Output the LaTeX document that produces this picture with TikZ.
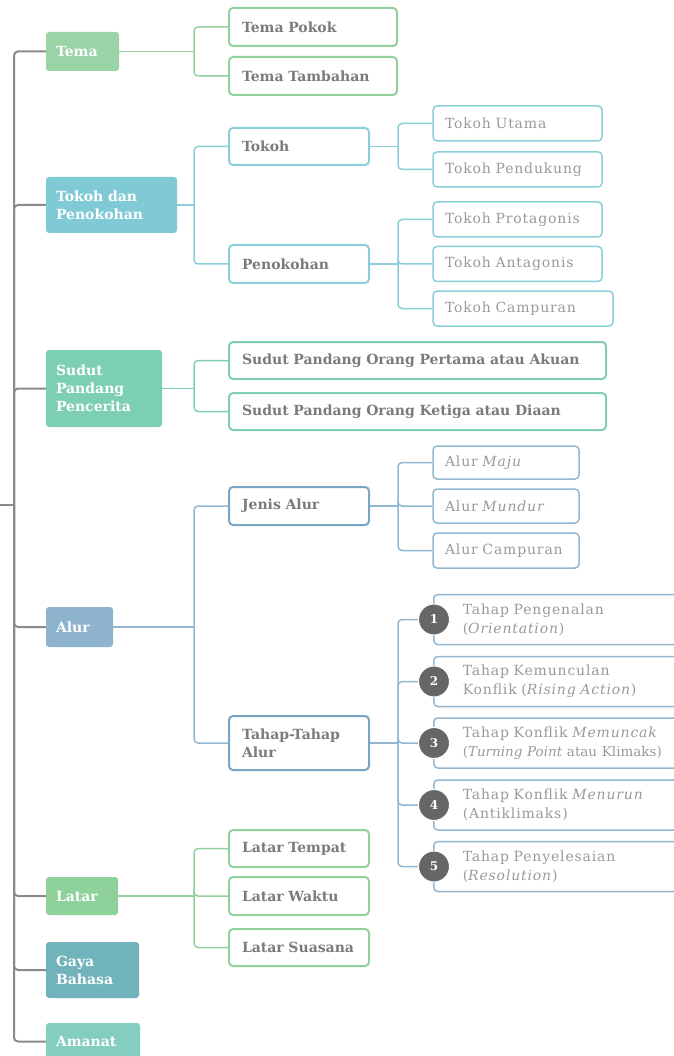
\documentclass[tikz,border=0pt]{standalone}
\usepackage{fontspec}
\setmainfont{DejaVu Serif}
\newfontfamily\leaffamily{DejaVu Serif}[LetterSpace=6]
\usetikzlibrary{positioning}
\definecolor{spinegray}{HTML}{8A8A8A}
\definecolor{txtgray}{HTML}{7B7B7B}
\definecolor{ltgray}{HTML}{9A9A9A}
\definecolor{dotgray}{HTML}{666666}
\definecolor{temafill}{HTML}{9AD3A6}
\definecolor{temaline}{HTML}{92D19E}
\definecolor{tokfill}{HTML}{80CAD6}
\definecolor{tokline}{HTML}{8ACFDA}
\definecolor{sudfill}{HTML}{7DCFB4}
\definecolor{sudline}{HTML}{80CEB3}
\definecolor{alurfill}{HTML}{8DB4CC}
\definecolor{alurline}{HTML}{94B7D1}
\definecolor{alurdark}{HTML}{7AA5C4}
\definecolor{latfill}{HTML}{8FD19B}
\definecolor{gayafill}{HTML}{70B3BA}
\definecolor{amafill}{HTML}{86CDC1}
\newcommand{\hdfont}{\fontsize{14}{18}\selectfont\bfseries}
\newcommand{\sbfont}{\fontsize{14}{18}\selectfont\bfseries}
\newcommand{\lvfont}{\leaffamily\fontsize{14}{19}\selectfont}

\begin{document}
\begin{tikzpicture}[x=1pt, y=-1pt,
    mainbox/.style={rectangle, rounded corners=3pt, text=white, font=\hdfont, align=left, inner xsep=10pt, inner ysep=2pt},
    subbox/.style={rectangle, rounded corners=4pt, draw, line width=2pt, fill=white, text=txtgray, font=\sbfont, align=left, inner xsep=13pt, inner ysep=2pt},
    leafbox/.style={subbox, line width=1.5pt, font=\lvfont, text=ltgray, inner xsep=12pt},
    stagebox/.style={leafbox, inner xsep=29pt, minimum height=50pt, text width=240pt},
    numdot/.style={circle, fill=dotgray, draw=white, line width=1pt, text=white, font=\fontsize{12}{12}\selectfont\bfseries, minimum size=31pt, inner sep=0pt},
    spineline/.style={draw=spinegray, line width=2pt, rounded corners=4pt},
    link/.style={line width=1.5pt, rounded corners=4pt}]
    \useasboundingbox (0,0) rectangle (673,1056);

    % main topics
    \node[mainbox, fill=temafill, text width=53pt, minimum height=39pt] (tema) at (82.5,51.5) {Tema};
    \node[mainbox, fill=tokfill, text width=111pt, minimum height=56pt] (tokdan) at (111.5,205) {Tokoh dan\\Penokohan};
    \node[mainbox, fill=sudfill, text width=96pt, minimum height=77pt] (sudut) at (104,388.5) {Sudut\\Pandang\\Pencerita};
    \node[mainbox, fill=alurfill, text width=47pt, minimum height=40pt] (alur) at (79.5,627) {Alur};
    \node[mainbox, fill=latfill, text width=52pt, minimum height=38pt] (latar) at (82,896) {Latar};
    \node[mainbox, fill=gayafill, text width=73pt, minimum height=56pt] (gaya) at (92.5,970) {Gaya\\Bahasa};
    \node[mainbox, fill=amafill, text width=74pt, minimum height=37pt] (amanat) at (93,1041.5) {Amanat};

    % tema
    \node[subbox, draw=temaline, text width=142pt, minimum height=38pt] (pokok) at (313,27) {Tema Pokok};
    \node[subbox, draw=temaline, text width=142pt, minimum height=38pt] (tambahan) at (313,76) {Tema Tambahan};

    % tokoh dan penokohan
    \node[subbox, draw=tokline, text width=114pt, minimum height=37pt] (tokoh) at (299,146.5) {Tokoh};
    \node[subbox, draw=tokline, text width=114pt, minimum height=38pt] (penokohan) at (299,264) {Penokohan};
    \node[leafbox, draw=tokline, text width=145pt, minimum height=35pt] (utama) at (517.5,123.5) {Tokoh Utama};
    \node[leafbox, draw=tokline, text width=145pt, minimum height=35pt] (pendukung) at (517.5,169.5) {Tokoh Pendukung};
    \node[leafbox, draw=tokline, text width=145pt, minimum height=35pt] (protagonis) at (517.5,219.5) {Tokoh Protagonis};
    \node[leafbox, draw=tokline, text width=145pt, minimum height=35pt] (antagonis) at (517.5,264) {Tokoh Antagonis};
    \node[leafbox, draw=tokline, text width=156pt, minimum height=35pt] (campuran) at (523,308.5) {Tokoh Campuran};

    % sudut pandang
    \node[subbox, draw=sudline, text width=351pt, minimum height=37pt] (pertama) at (417.5,360.5) {Sudut Pandang Orang Pertama atau Akuan};
    \node[subbox, draw=sudline, text width=351pt, minimum height=37pt] (ketiga) at (417.5,411.5) {Sudut Pandang Orang Ketiga atau Diaan};

    % alur
    \node[subbox, draw=alurdark, text width=114pt, minimum height=38pt] (jenis) at (299,506) {Jenis Alur};
    \node[subbox, draw=alurdark, text width=114pt, minimum height=54pt] (tahapalur) at (299,743) {Tahap-Tahap\\Alur};
    \node[leafbox, draw=alurline, text width=122pt, minimum height=33pt] (maju) at (506,462.5) {Alur \textit{Maju}};
    \node[leafbox, draw=alurline, text width=122pt, minimum height=34pt] (mundur) at (506,506) {Alur \textit{Mundur}};
    \node[leafbox, draw=alurline, text width=122pt, minimum height=35pt] (alcampur) at (506,550.5) {Alur Campuran};
    \node[stagebox, draw=alurline, anchor=west] (t1) at (433,619.5) {Tahap Pengenalan\\(\textit{Orientation})};
    \node[stagebox, draw=alurline, anchor=west] (t2) at (433,681.5) {Tahap Kemunculan\\Konflik (\textit{Rising Action})};
    \node[stagebox, draw=alurline, anchor=west] (t3) at (433,743) {Tahap Konflik \textit{Memuncak}\\{\rmfamily\fontsize{13.5}{19}\selectfont(\textit{Turning Point} atau Klimaks)}};
    \node[stagebox, draw=alurline, anchor=west] (t4) at (433,805) {Tahap Konflik \textit{Menurun}\\(Antiklimaks)};
    \node[stagebox, draw=alurline, anchor=west] (t5) at (433,866.5) {Tahap Penyelesaian\\(\textit{Resolution})};

    % latar
    \node[subbox, draw=temaline, text width=114pt, minimum height=37pt] (tempat) at (299,848.5) {Latar Tempat};
    \node[subbox, draw=temaline, text width=114pt, minimum height=38pt] (waktu) at (299,896) {Latar Waktu};
    \node[subbox, draw=temaline, text width=114pt, minimum height=37pt] (suasana) at (299,947.5) {Latar Suasana};

    % spine
    \coordinate (root) at (0,505);
    \coordinate (spine) at (14,505);
    \coordinate (busa) at (194,0);
    \coordinate (busb) at (398,0);
    \draw[spineline] (root) -- (spine);
    \foreach \m in {tema,tokdan,sudut,alur,latar,gaya,amanat}
        \draw[spineline] (spine) |- (\m.west);

    % links
    \draw[link, temaline] (tema.east) -- (busa |- tema.east);
    \foreach \c in {pokok,tambahan}
        \draw[link, temaline] (busa |- tema.east) |- (\c.west);
    \draw[link, tokline] (tokdan.east) -- (busa |- tokdan.east);
    \foreach \c in {tokoh,penokohan}
        \draw[link, tokline] (busa |- tokdan.east) |- (\c.west);
    \draw[link, tokline] (tokoh.east) -- (busb |- tokoh.east);
    \foreach \c in {utama,pendukung}
        \draw[link, tokline] (busb |- tokoh.east) |- (\c.west);
    \draw[link, tokline] (penokohan.east) -- (busb |- penokohan.east);
    \foreach \c in {protagonis,antagonis,campuran}
        \draw[link, tokline] (busb |- penokohan.east) |- (\c.west);
    \draw[link, sudline] (sudut.east) -- (busa |- sudut.east);
    \foreach \c in {pertama,ketiga}
        \draw[link, sudline] (busa |- sudut.east) |- (\c.west);
    \draw[link, alurline] (alur.east) -- (busa |- alur.east);
    \foreach \c in {jenis,tahapalur}
        \draw[link, alurline] (busa |- alur.east) |- (\c.west);
    \draw[link, alurline] (jenis.east) -- (busb |- jenis.east);
    \foreach \c in {maju,mundur,alcampur}
        \draw[link, alurline] (busb |- jenis.east) |- (\c.west);
    \draw[link, alurline] (tahapalur.east) -- (busb |- tahapalur.east);
    \foreach \c in {t1,t2,t3,t4,t5}
        \draw[link, alurline] (busb |- tahapalur.east) |- (\c.west);
    \draw[link, temaline] (latar.east) -- (busa |- latar.east);
    \foreach \c in {tempat,waktu,suasana}
        \draw[link, temaline] (busa |- latar.east) |- (\c.west);

    % numbered stages
    \foreach \i in {1,...,5}
        \node[numdot] (n\i) at ([xshift=1pt]t\i.west) {\i};
\end{tikzpicture}
\end{document}
